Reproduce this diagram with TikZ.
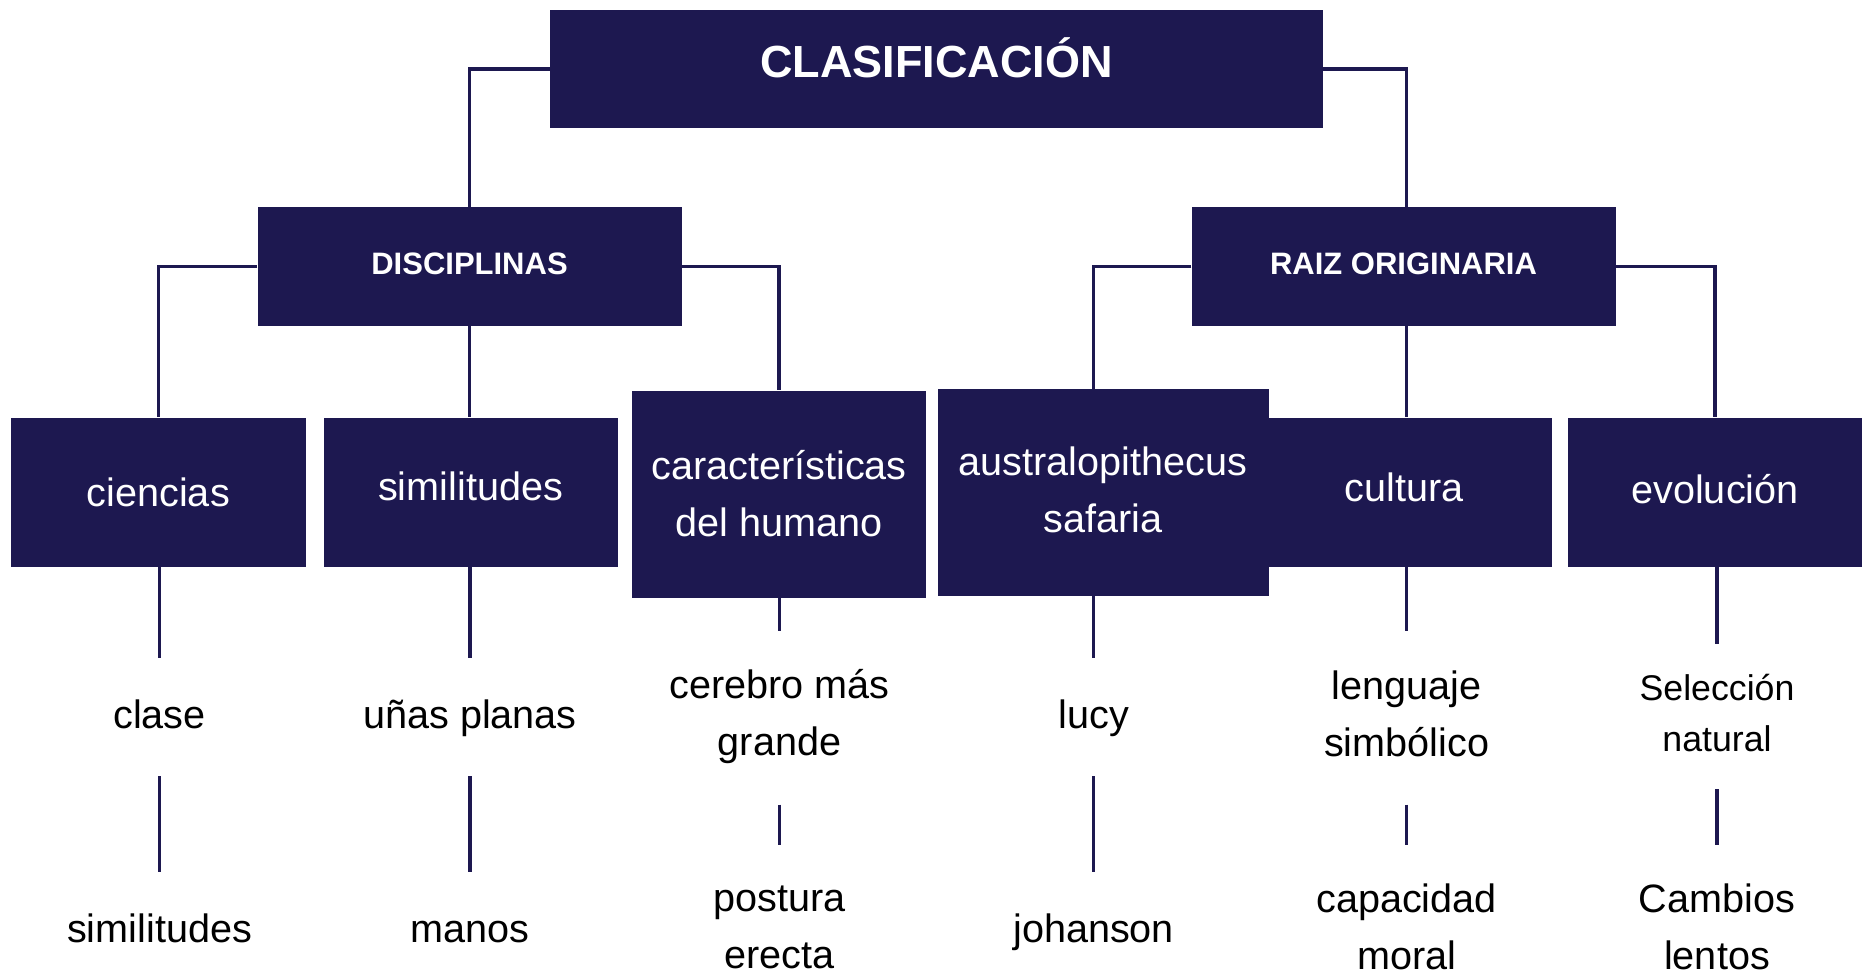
\documentclass[tikz,border=0pt]{standalone}
\usepackage{fontspec}
\setmainfont{Liberation Sans}
\usetikzlibrary{calc}
\definecolor{navy}{RGB}{29,24,80}
\begin{document}
\begin{tikzpicture}[x=1pt,y=-1pt,
  box/.style={fill=navy,text=white,inner sep=0pt,align=center,font=\fontsize{39.6}{57}\selectfont},
  head/.style={box,font=\bfseries\fontsize{31}{37}\selectfont,minimum width=424pt,minimum height=119pt,text depth=5pt},
  leaftwo/.style={text=black,inner sep=0pt,align=center,font=\fontsize{39.6}{57}\selectfont},
  leaf/.style={leaftwo,text height=29pt,text depth=0pt},
  link/.style={draw=navy,line width=3.6pt}]
\useasboundingbox (0,0) rectangle (1866,975);

% boxes
\node[box,font=\bfseries\fontsize{45}{50}\selectfont,minimum width=773pt,minimum height=118pt,text height=31.7pt,text depth=13.2pt] (clas) at (936.5,68.7) {CLASIFICACIÓN};
\node[head] (disc) at (469.5,266.6) {DISCIPLINAS};
\node[head] (raiz) at (1403.5,266.6) {RAIZ ORIGINARIA};
\node[box,minimum width=295pt,minimum height=149pt] (cien) at (158.3,492) {ciencias};
\node[box,minimum width=294pt,minimum height=149pt,text depth=12pt] (simi) at (470.6,492) {similitudes};
\node[box,minimum width=294pt,minimum height=207pt] (cara) at (779,494) {características\\del humano};
\node[box,minimum width=296pt,minimum height=149pt,text depth=9.5pt] (cult) at (1404,492) {cultura};
\node[box,minimum width=331pt,minimum height=207pt,text depth=5pt] (aust) at (1103,492.5) {australopithecus\\safaria};
\node[box,minimum width=294pt,minimum height=149pt,text depth=7pt] (evol) at (1715,492) {evolución};

% leaves
\node[leaf] (clase) at (159.5,714) {clase};
\node[leaf] (simb) at (159.5,928) {similitudes};
\node[leaf] (unas) at (470,714) {uñas planas};
\node[leaf] (manos) at (470,928) {manos};
\node[leaftwo] (cere) at (779.5,717) {cerebro más\\grande};
\node[leaftwo] (post) at (779.5,927) {postura\\erecta};
\node[leaf] (lucy) at (1093.6,714) {lucy};
\node[leaf] (joha) at (1093.6,928) {johanson};
\node[leaftwo] (leng) at (1406.6,714) {lenguaje\\simbólico};
\node[leaftwo] (capa) at (1406.6,927) {capacidad\\moral};
\node[leaftwo,font=\fontsize{35.7}{51}\selectfont] (sele) at (1717,713.5) {Selección\\natural};
\node[leaftwo] (camb) at (1717,927) {Cambios\\lentos};

% upper connectors
\draw[link] (clas.west) -| (disc.north);
\draw[link] (clas.east) -| (leng |- raiz.north);
\draw[link] (disc.west) -| (cien.north);
\draw[link] (disc.south) -- (disc.south |- simi.north);
\draw[link] (disc.east) -| (cara.north);
\draw[link] (raiz.west) -| (lucy |- aust.north);
\draw[link] (leng |- raiz.south) -- (leng |- cult.north);
\draw[link] (raiz.east) -| (evol.north);

% lower connector end points
\coordinate (a1) at (159.5,658);  \coordinate (b1) at (159.5,776);  \coordinate (c1) at (159.5,872);
\coordinate (a2) at (470,658);    \coordinate (b2) at (470,776);    \coordinate (c2) at (470,872);
\coordinate (a3) at (779.5,630.7);\coordinate (b3) at (779.5,804.5);\coordinate (c3) at (779.5,845);
\coordinate (a4) at (1093.6,658); \coordinate (b4) at (1093.6,776); \coordinate (c4) at (1093.6,872);
\coordinate (a5) at (1406.6,630.5);\coordinate (b5) at (1406.6,804.5);\coordinate (c5) at (1406.6,845);
\coordinate (a6) at (1717,644);   \coordinate (b6) at (1717,789);   \coordinate (c6) at (1717,845);

\draw[link] (a1 |- cien.south) -- (a1);
\draw[link] (b1) -- (c1);
\draw[link] (a2 |- simi.south) -- (a2);
\draw[link] (b2) -- (c2);
\draw[link] (a3 |- cara.south) -- (a3);
\draw[link] (b3) -- (c3);
\draw[link] (a4 |- aust.south) -- (a4);
\draw[link] (b4) -- (c4);
\draw[link] (a5 |- cult.south) -- (a5);
\draw[link] (b5) -- (c5);
\draw[link] (a6 |- evol.south) -- (a6);
\draw[link] (b6) -- (c6);
\end{tikzpicture}
\end{document}
